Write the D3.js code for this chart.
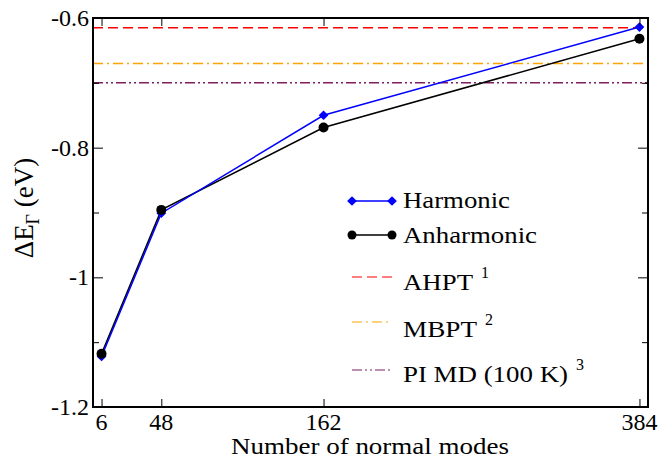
<!DOCTYPE html>
<html>
<head>
<meta charset="UTF-8">
<script src="https://d3js.org/d3.v7.min.js"></script>
<style>
  body { margin: 0; background: #fff; }
  svg text { font-family: "Liberation Serif", "Times New Roman", "DejaVu Serif", serif; }
</style>
</head>
<body>
<div id="chart"></div>
<script>
// data
const modes = [6, 48, 162, 384];
const harmonic = [-1.122, -0.901, -0.750, -0.614];
const anharmonic = [-1.118, -0.896, -0.769, -0.632];
const refNames = ['AHPT', 'MBPT', 'PI MD (100 K)'];
const refSup = ['1', '2', '3'];
const refValues = [-0.615, -0.670, -0.700];
const refColors = ['#ff0000', '#ffa500', '#7f1f5f'];
const refDash = ['10,5', '10,4,2,4', '10,3,2,3,2,3'];
const yTicks = [-1.2, -1, -0.8, -0.6];
const yTickLabels = ['-1.2', '-1', '-0.8', '-0.6'];
const yMinor = [-1.1, -0.9, -0.7];

const width = 661, height = 458;
const m = { left: 93, top: 18, right: 13, bottom: 51 };
const fs = 24;

const svg = d3.select('#chart').append('svg')
  .attr('width', width).attr('height', height);

const x = d3.scaleLinear().domain([0, 390]).range([m.left, width - m.right]);
const y = d3.scaleLinear().domain([-1.2, -0.6]).range([height - m.bottom, m.top]);

// reference lines
refValues.forEach((v, i) => {
  svg.append('line')
    .attr('x1', x(0)).attr('x2', x(390))
    .attr('y1', y(v)).attr('y2', y(v))
    .attr('stroke', refColors[i]).attr('stroke-width', 1.5)
    .attr('stroke-dasharray', refDash[i]);
});

// series
const line = d3.line().x((d, i) => x(modes[i])).y(d => y(d));

svg.append('path').datum(anharmonic)
  .attr('d', line).attr('fill', 'none').attr('stroke', '#000').attr('stroke-width', 1.5);
svg.append('path').datum(harmonic)
  .attr('d', line).attr('fill', 'none').attr('stroke', '#0000ff').attr('stroke-width', 1.5);

const diamond = d3.symbol().type(d3.symbolDiamond2).size(60);
svg.selectAll('.hpt').data(harmonic).enter().append('path')
  .attr('transform', (d, i) => `translate(${x(modes[i])},${y(d)})`)
  .attr('d', diamond).attr('fill', '#0000ff');
svg.selectAll('.apt').data(anharmonic).enter().append('circle')
  .attr('cx', (d, i) => x(modes[i])).attr('cy', d => y(d))
  .attr('r', 5).attr('fill', '#000');

// axes (ticks inside)
const axL = d3.axisRight(y).tickValues(yTicks).tickSize(10).tickFormat('');
const axR = d3.axisLeft(y).tickValues(yTicks).tickSize(10).tickFormat('');
const axLm = d3.axisRight(y).tickValues(yMinor).tickSize(6).tickFormat('');
const axRm = d3.axisLeft(y).tickValues(yMinor).tickSize(6).tickFormat('');
const axB = d3.axisTop(x).tickValues(modes).tickSize(8).tickFormat('');
const axT = d3.axisBottom(x).tickValues(modes).tickSize(8).tickFormat('');

[[axL, `translate(${m.left},0)`], [axLm, `translate(${m.left},0)`],
 [axR, `translate(${width - m.right},0)`], [axRm, `translate(${width - m.right},0)`],
 [axB, `translate(0,${height - m.bottom})`], [axT, `translate(0,${m.top})`]]
  .forEach(([ax, t]) => {
    const g = svg.append('g').attr('transform', t).call(ax);
    g.select('.domain').remove();
    g.selectAll('line').attr('stroke', '#000').attr('stroke-width', 1);
  });

svg.append('rect')
  .attr('x', m.left).attr('y', m.top)
  .attr('width', width - m.left - m.right).attr('height', height - m.top - m.bottom)
  .attr('fill', 'none').attr('stroke', '#000').attr('stroke-width', 2);

// tick labels
svg.selectAll('.ylab').data(yTicks).enter().append('text')
  .attr('x', m.left - 4).attr('y', d => y(d) + 8)
  .attr('text-anchor', 'end').attr('font-size', fs)
  .text((d, i) => yTickLabels[i]);
svg.selectAll('.xlab').data(modes).enter().append('text')
  .attr('x', d => x(d)).attr('y', 430)
  .attr('text-anchor', 'middle').attr('font-size', fs)
  .text(d => d);

// axis titles
svg.append('text')
  .attr('x', 370).attr('y', 454)
  .attr('text-anchor', 'middle').attr('font-size', fs)
  .attr('textLength', 278).attr('lengthAdjust', 'spacingAndGlyphs')
  .text('Number of normal modes');

const yt = svg.append('text')
  .attr('transform', 'translate(33,208) rotate(-90)')
  .attr('text-anchor', 'middle').attr('font-size', 27);
yt.append('tspan').text('ΔE');
yt.append('tspan').attr('font-size', 18).attr('dy', 6).text('Γ');
yt.append('tspan').attr('dy', -6).text(' (eV)');

// legend
const lx1 = 352, lx2 = 392, tx = 403;
const legLineY = [201, 235, 277, 322, 370];
const legTextY = [208, 243, 290, 337, 382];
const legTextLen = [107, 134, 70, 74, 165];

svg.append('line').attr('x1', lx1).attr('x2', lx2).attr('y1', legLineY[0]).attr('y2', legLineY[0])
  .attr('stroke', '#0000ff').attr('stroke-width', 1.5);
[lx1, lx2].forEach(px => svg.append('path')
  .attr('transform', `translate(${px},${legLineY[0]})`).attr('d', diamond).attr('fill', '#0000ff'));
svg.append('text').attr('x', tx).attr('y', legTextY[0]).attr('font-size', fs)
  .attr('textLength', legTextLen[0]).attr('lengthAdjust', 'spacingAndGlyphs').text('Harmonic');

svg.append('line').attr('x1', lx1).attr('x2', lx2).attr('y1', legLineY[1]).attr('y2', legLineY[1])
  .attr('stroke', '#000').attr('stroke-width', 1.5);
[lx1, lx2].forEach(px => svg.append('circle')
  .attr('cx', px).attr('cy', legLineY[1]).attr('r', 4.5).attr('fill', '#000'));
svg.append('text').attr('x', tx).attr('y', legTextY[1]).attr('font-size', fs)
  .attr('textLength', legTextLen[1]).attr('lengthAdjust', 'spacingAndGlyphs').text('Anharmonic');

refNames.forEach((n, i) => {
  const ly = legLineY[i + 2], ty = legTextY[i + 2], len = legTextLen[i + 2];
  svg.append('line').attr('x1', lx1).attr('x2', lx2).attr('y1', ly).attr('y2', ly)
    .attr('stroke', refColors[i]).attr('stroke-width', 1.2)
    .attr('stroke-dasharray', refDash[i]);
  svg.append('text').attr('x', tx).attr('y', ty).attr('font-size', fs)
    .attr('textLength', len).attr('lengthAdjust', 'spacingAndGlyphs').text(n);
  svg.append('text').attr('x', tx + len + 8).attr('y', ty - 12).attr('font-size', 16)
    .text(refSup[i]);
});
</script>
</body>
</html>
